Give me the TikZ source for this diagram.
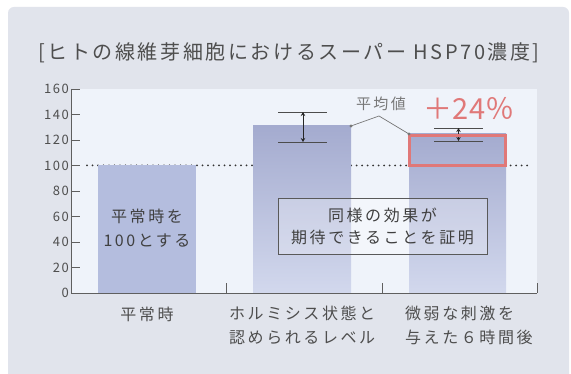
\documentclass[tikz,border=0pt]{standalone}
\usepackage{fontspec}
\setmainfont{Noto Sans CJK JP}
\newfontfamily\jpT[LetterSpace=13]{Noto Sans CJK JP}
\newfontfamily\jpL[LetterSpace=16]{Noto Sans CJK JP}
\newfontfamily\jpN[LetterSpace=12]{Noto Sans CJK JP}
\newfontfamily\jpP[LetterSpace=2]{Noto Sans CJK JP}
\usetikzlibrary{arrows.meta}
\definecolor{panel}{RGB}{225,228,236}
\definecolor{plotbg}{RGB}{239,243,250}
\definecolor{barA}{RGB}{180,189,222}
\definecolor{barTop}{RGB}{164,171,207}
\definecolor{barBot}{RGB}{210,216,237}
\definecolor{redc}{RGB}{224,120,120}
\definecolor{txt}{RGB}{78,78,78}
\definecolor{axisc}{RGB}{95,95,95}
\definecolor{leadc}{RGB}{120,120,120}
\tikzset{
  axisline/.style={draw=axisc, line width=0.9pt},
  dotline/.style={draw=black!80, line width=2pt, line cap=round, dash pattern=on 0pt off 5.5pt},
  errline/.style={draw=black!70, line width=0.8pt},
  errarrow/.style={draw=black!85, line width=0.8pt, {Stealth[length=4pt,width=4.5pt]}-{Stealth[length=4pt,width=4.5pt]}},
  ylab/.style={text=txt, anchor=east, inner sep=0pt, font=\jpN\fontsize{13}{13}\selectfont},
  catlab/.style={text=txt, inner sep=0pt, align=left, font=\jpL\fontsize{16}{24}\selectfont},
  leader/.style={draw=leadc, line width=0.7pt},
  leaderdot/.style={fill=leadc},
}
\begin{document}
\begin{tikzpicture}[x=1pt,y=-1pt]
\useasboundingbox (0,0) rectangle (571,374);
\clip (0,0) rectangle (571,374);
\fill[white] (0,0) rectangle (571,374);
\fill[panel, rounded corners=6pt] (8,7) rectangle (569,390);
% title
\node[anchor=west, inner sep=0pt, text=txt, font=\jpT\fontsize{20}{20}\selectfont] (title) at (38,53) {[ヒトの線維芽細胞におけるスーパー HSP70濃度]};
% plot area
\fill[plotbg] (71,89) rectangle (537,293);
% dotted 100 line
\coordinate (dl) at (87,165.5);
\coordinate (dr) at (530,165.5);
\draw[dotline] (dl) -- (dr);
% bars
\fill[barA] (98,165.5) rectangle (196,293);
\shade[top color=barTop, bottom color=barBot] (253,126) rectangle (351,293);
\shade[top color=barTop, bottom color=barBot] (409,134) rectangle (506,293);
% axes
\draw[axisline] (71,89) -- (71,293) -- (537,293);
\foreach \v in {0,20,...,160}{
  \pgfmathsetmacro{\yy}{293-\v*1.275}
  \draw[axisline] (71,\yy) -- (80,\yy);
  \node[ylab] (y\v) at (69,\yy) {\v};
}
\foreach \xx in {226,382,537}{
  \draw[axisline] (\xx,293) -- (\xx,283);
}
% error bars bar 2
\coordinate (e2t) at (303,112);
\coordinate (e2b) at (303,142);
\draw[errline] (278,112) -- (327,112);
\draw[errline] (278,142) -- (327,142);
\draw[errarrow] (e2t) -- (e2b);
% error bars bar 3
\coordinate (e3t) at (458.5,128);
\coordinate (e3b) at (458.5,141);
\draw[errline] (434,128) -- (483,128);
\draw[errline] (434,141) -- (483,141);
\draw[errarrow] (e3t) -- (e3b);
% red highlight
\draw[redc, line width=3pt] (409.5,135.5) rectangle (505.5,165.5);
% leader
\node[text=leadc, inner sep=0pt, font=\jpL\fontsize{15}{15}\selectfont] (avg) at (381,104) {平均値};
\coordinate (lk) at (379,116);
\coordinate (l2) at (351,126);
\coordinate (l3) at (409,134);
\draw[leader] (l2) -- (lk) -- (l3);
\fill[leaderdot] (l2) circle (1.6);
\fill[leaderdot] (l3) circle (1.6);
% +24%
\node[text=redc, inner sep=0pt, font=\jpP\fontsize{29}{29}\selectfont] (pct) at (469,108) {＋24％};
% texts
\node[catlab, align=center, text=black!75] (b1t) at (147,228.5) {平常時を\\100とする};
\node[draw=black!65, line width=0.8pt, fill=white, fill opacity=0.25, text opacity=1, minimum width=209pt, minimum height=56pt, inner sep=0pt] (box) at (382.5,226) {};
\node[catlab, align=center, text=black!75, font=\jpL\fontsize{16}{22}\selectfont] (boxt) at (box.center) {同様の効果が\\期待できることを証明};
% category labels
\node[catlab] (c1) at (147,314) {平常時};
\node[catlab, anchor=west] (c2) at (229,325) {ホルミシス状態と\\認められるレベル};
\node[catlab, anchor=west] (c3) at (405,325) {微弱な刺激を\\与えた６時間後};
\end{tikzpicture}
\end{document}
